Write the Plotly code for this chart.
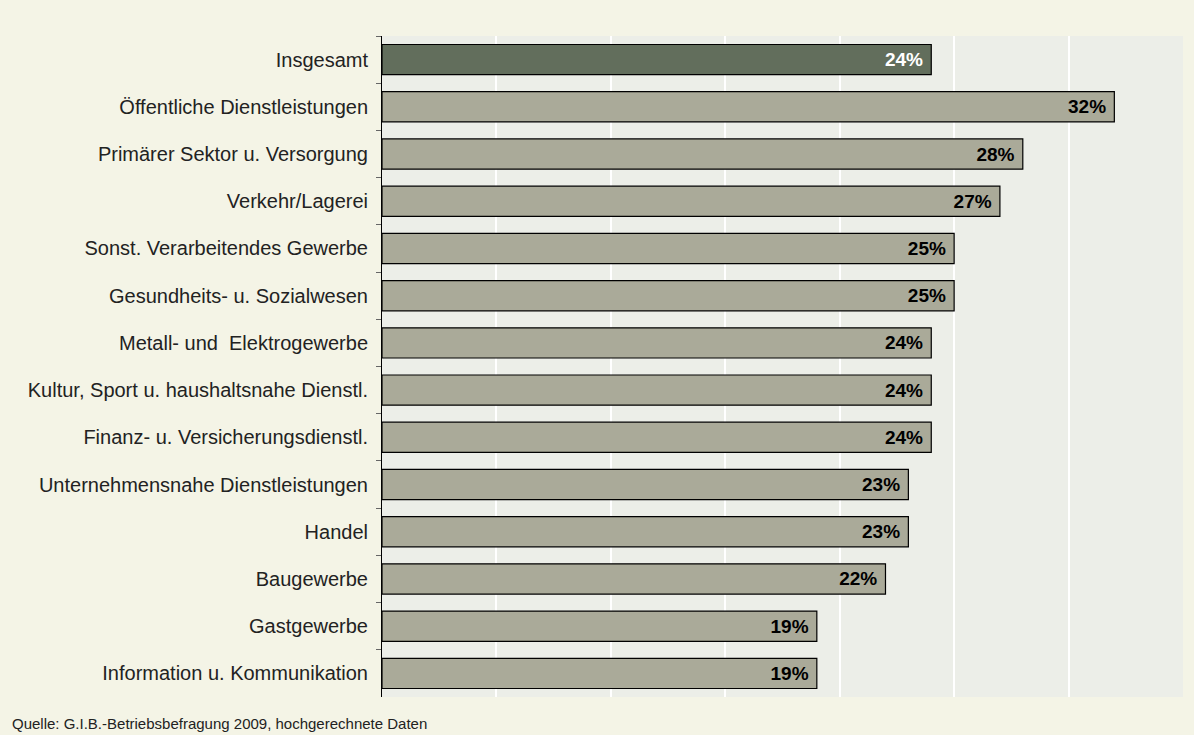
import plotly.graph_objects as go

categories = [
    "Insgesamt",
    "Öffentliche Dienstleistungen",
    "Primärer Sektor u. Versorgung",
    "Verkehr/Lagerei",
    "Sonst. Verarbeitendes Gewerbe",
    "Gesundheits- u. Sozialwesen",
    "Metall- und  Elektrogewerbe",
    "Kultur, Sport u. haushaltsnahe Dienstl.",
    "Finanz- u. Versicherungsdienstl.",
    "Unternehmensnahe Dienstleistungen",
    "Handel",
    "Baugewerbe",
    "Gastgewerbe",
    "Information u. Kommunikation",
]
values = [24, 32, 28, 27, 25, 25, 24, 24, 24, 23, 23, 22, 19, 19]
source_note = "Quelle: G.I.B.-Betriebsbefragung 2009, hochgerechnete Daten"

bar_colors = ["#626e5c"] + ["#aaaa99"] * (len(values) - 1)
text_colors = ["white"] + ["black"] * (len(values) - 1)

fig = go.Figure(go.Bar(
    x=values, y=categories, orientation="h",
    marker=dict(color=bar_colors, line=dict(color="black", width=1.2)),
    text=[f"{v}%" for v in values],
    textposition="inside", insidetextanchor="end", constraintext="none",
    textfont=dict(family="Liberation Sans, Arial", size=19, color=text_colors),
    texttemplate="<b>%{text}</b>&nbsp;",
    hoverinfo="x+y",
))

# footnote sits at the left edge of the page, below the plot area
plot_l, plot_w, plot_h = 382, 801, 661

fig.update_layout(
    width=1194, height=735,
    paper_bgcolor="#f4f4e6",
    plot_bgcolor="#eceee8",
    bargap=0.36,
    showlegend=False,
    margin=dict(l=plot_l, r=11, t=36, b=38),
    font=dict(family="Liberation Sans, Arial", size=20, color="#222222"),
    xaxis=dict(range=[0, 35], dtick=5, showticklabels=False, showgrid=True,
               gridcolor="white", gridwidth=1.5, zeroline=False, ticks=""),
    yaxis=dict(autorange="reversed", showline=True, linecolor="black", linewidth=1,
               ticks="outside", tickson="boundaries", ticklen=5, tickcolor="#666666",
               ticklabelstandoff=9, showgrid=False),
    annotations=[dict(text=source_note, x=(10 - plot_l) / plot_w, y=-26 / plot_h,
                      xref="paper", yref="paper", showarrow=False,
                      xanchor="left", yanchor="middle",
                      font=dict(size=15, color="#222222"))],
)

fig.write_html("out.html", config={"displayModeBar": False},
               post_script="document.body.style.margin='0';")
